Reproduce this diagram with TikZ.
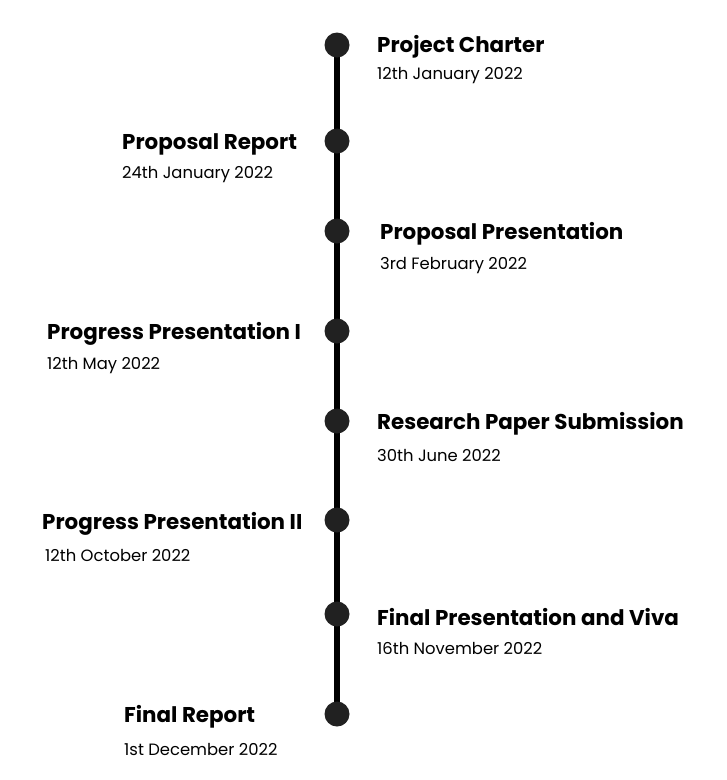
\documentclass[tikz,border=0pt]{standalone}
\usepackage{fontspec}
\setmainfont{Poppins}
\begin{document}
\begin{tikzpicture}[x=1pt,y=-1pt,
  milestone/.style={circle,fill=black!87,inner sep=0pt,minimum size=25pt},
  title/.style={anchor=west,inner sep=0pt,font=\fontsize{21.4}{24}\selectfont\bfseries},
  when/.style={anchor=west,inner sep=0pt,font=\fontsize{16.4}{19}\selectfont},
]
\useasboundingbox[fill=white] (0,0) rectangle (727,780);
% timeline spine
\coordinate (top) at (337,45);
\coordinate (bottom) at (337,714);
\draw[line width=6.5pt,black] (top) -- (bottom);
% milestones
\node[milestone] (m1) at (337,45) {};
\node[milestone] (m2) at (337,141) {};
\node[milestone] (m3) at (337,231) {};
\node[milestone] (m4) at (337,331) {};
\node[milestone] (m5) at (337,421) {};
\node[milestone] (m6) at (337,520) {};
\node[milestone] (m7) at (337,614) {};
\node[milestone] (m8) at (337,714) {};
% labels
\node[title] (t1) at (377,47) {Project Charter};
\node[when] (d1) at (377,76) {12th January 2022};
\node[title] (t2) at (122,144) {Proposal Report};
\node[when] (d2) at (122,175) {24th January 2022};
\node[title] (t3) at (380,234) {Proposal Presentation};
\node[when] (d3) at (380,266) {3rd February 2022};
\node[title] (t4) at (47,334) {Progress Presentation I};
\node[when] (d4) at (47,366) {12th May 2022};
\node[title] (t5) at (377,424) {Research Paper Submission};
\node[when] (d5) at (377,455) {30th June 2022};
\node[title] (t6) at (42,524) {Progress Presentation II};
\node[when] (d6) at (45,555) {12th October 2022};
\node[title] (t7) at (377,617) {Final Presentation and Viva};
\node[when] (d7) at (377,648) {16th November 2022};
\node[title] (t8) at (124,717) {Final Report};
\node[when] (d8) at (124,749) {1st December 2022};
\end{tikzpicture}
\end{document}
